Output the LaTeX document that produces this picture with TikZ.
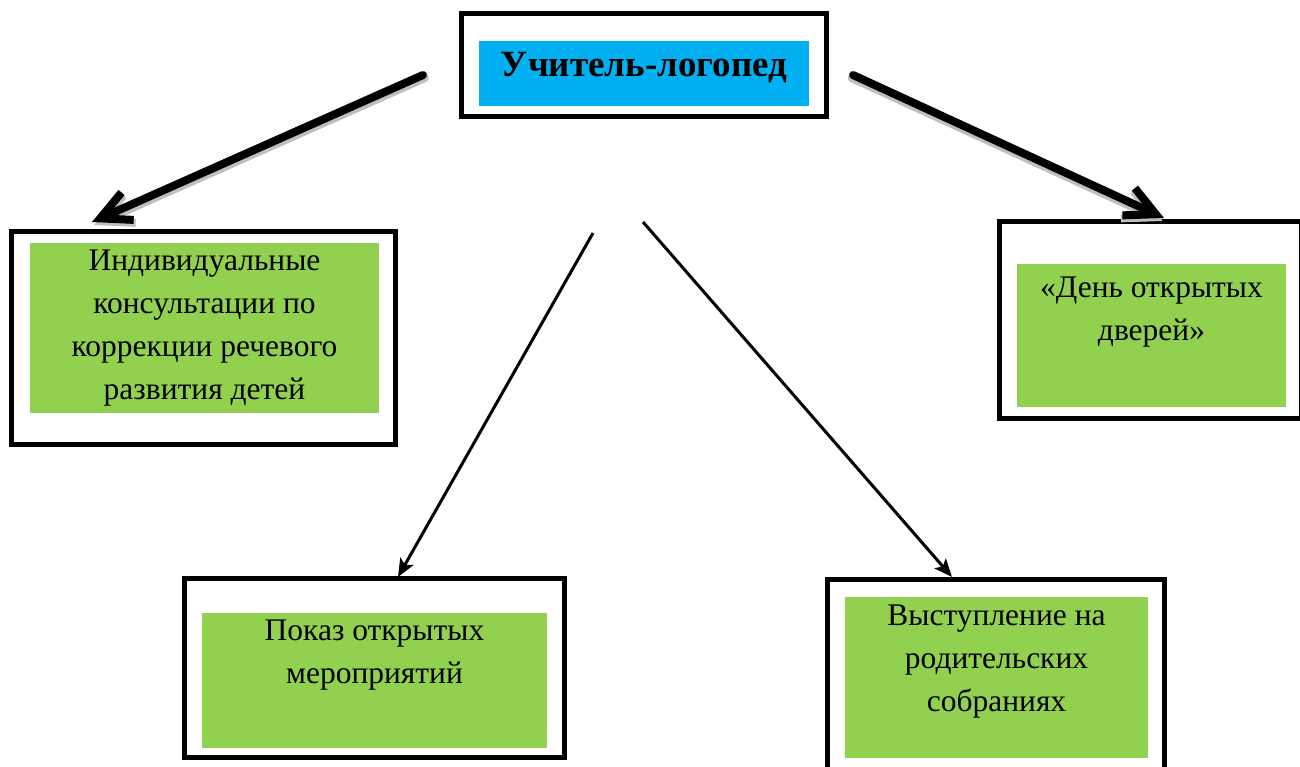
\documentclass[tikz,border=0pt]{standalone}
\usepackage{fontspec}
\setmainfont{Liberation Serif}
\usetikzlibrary{arrows.meta}
\definecolor{capblue}{HTML}{00B0F0}
\definecolor{padgreen}{HTML}{92D050}
\begin{document}
\begin{tikzpicture}[x=1pt,y=-1pt,
  frame/.style={draw=black,line width=5.5pt,fill=white,inner sep=0pt},
  pad/.style={fill=padgreen,inner sep=0pt},
  words/.style={inner sep=0pt,align=center,font=\fontsize{31.5}{43}\selectfont},
  bigarrow/.style={line width=8pt,line cap=round,-{Straight Barb[length=30pt,width=30pt]}},
  smallarrow/.style={line width=3pt,-{Stealth[length=18pt,width=15pt,inset=4pt]}}]
\useasboundingbox (0,0) rectangle (1300,767);
\clip (0,0) rectangle (1300,767);
\node[frame,minimum width=365,minimum height=103] (teacherbox) at (644,65) {};
\node[fill=capblue,inner sep=0pt,minimum width=330,text height=36pt,text depth=29pt,font=\fontsize{37}{44}\selectfont\bfseries] (teacher) at (644,73.5) {Учитель-логопед};
\node[frame,minimum width=384,minimum height=213] (consultbox) at (203.5,338) {};
\node[pad,minimum width=349,minimum height=170] (consultpad) at (204.5,328) {};
\node[words] (consult) at (consultpad.center) {Индивидуальные\\консультации по\\коррекции речевого\\развития детей};
\node[frame,minimum width=302,minimum height=197] (openbox) at (1150.5,320) {};
\node[pad,minimum width=269,minimum height=143] (openpad) at (1151.5,335.5) {};
\node[words,anchor=north] (open) at ([yshift=-13pt]openpad.north) {«День открытых\\дверей»};
\node[frame,minimum width=380,minimum height=179] (showbox) at (374.5,668) {};
\node[pad,minimum width=345,minimum height=135] (showpad) at (374.5,680.5) {};
\node[words,anchor=north] (show) at ([yshift=-7pt]showpad.north) {Показ открытых\\мероприятий};
\node[frame,minimum width=337,minimum height=208] (talkbox) at (996,683.5) {};
\node[pad,minimum width=303,minimum height=161] (talkpad) at (996.5,677.5) {};
\node[words,anchor=north] (talk) at ([yshift=-8pt]talkpad.north) {Выступление на\\родительских\\собраниях};
\coordinate (leftfrom) at (423,75);
\coordinate (leftto) at (92,222);
\coordinate (rightfrom) at (853,75);
\coordinate (rightto) at (1164,218);
\coordinate (showfrom) at (593,233);
\coordinate (showto) at (398,577);
\coordinate (talkfrom) at (643,222);
\coordinate (talkto) at (952,577);
\draw[bigarrow,gray!50,transform canvas={xshift=2pt,yshift=-3pt}] (leftfrom) -- (leftto);
\draw[bigarrow,gray!50,transform canvas={xshift=-1.5pt,yshift=-3pt}] (rightfrom) -- (rightto);
\draw[bigarrow] (leftfrom) -- (leftto);
\draw[bigarrow] (rightfrom) -- (rightto);
\draw[smallarrow] (showfrom) -- (showto);
\draw[smallarrow] (talkfrom) -- (talkto);
\end{tikzpicture}
\end{document}
